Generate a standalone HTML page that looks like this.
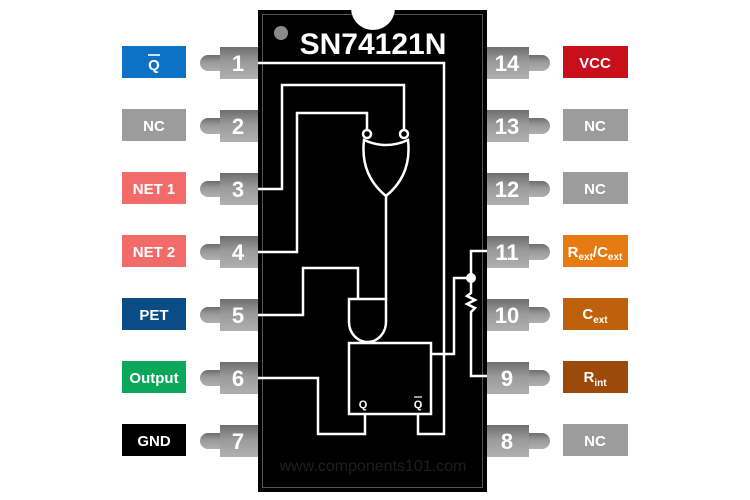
<!DOCTYPE html>
<html><head><meta charset="utf-8"><style>
html,body{margin:0;padding:0;background:#fff;width:750px;height:500px;overflow:hidden}
svg{display:block}
text{font-family:"Liberation Sans",Arial,sans-serif;font-weight:bold}
</style></head><body>
<svg width="750" height="500" viewBox="0 0 750 500" xmlns="http://www.w3.org/2000/svg">
<defs>
<linearGradient id="pg" x1="0" y1="0" x2="0" y2="1">
<stop offset="0" stop-color="#6e6e6e"/><stop offset="0.45" stop-color="#9a9a9a"/><stop offset="1" stop-color="#b0b0b0"/>
</linearGradient>
<g id="lp"><rect x="200" y="-8" width="30" height="16" rx="8" fill="url(#pg)"/><rect x="220" y="-16" width="40" height="32" fill="url(#pg)"/></g>
<g id="rp"><rect x="520" y="-8" width="30" height="16" rx="8" fill="url(#pg)"/><rect x="485" y="-16" width="44" height="32" fill="url(#pg)"/></g>
</defs>
<g><use href="#lp" y="63"/><use href="#lp" y="126"/><use href="#lp" y="189"/><use href="#lp" y="252"/><use href="#lp" y="315"/><use href="#lp" y="378"/><use href="#lp" y="441"/>
<use href="#rp" y="63"/><use href="#rp" y="126"/><use href="#rp" y="189"/><use href="#rp" y="252"/><use href="#rp" y="315"/><use href="#rp" y="378"/><use href="#rp" y="441"/></g>
<rect x="258" y="10" width="229" height="482" fill="#000"/>
<rect x="262.5" y="14.5" width="220" height="473" fill="none" stroke="#555" stroke-width="1"/>
<circle cx="373" cy="8" r="22" fill="#fff"/>
<circle cx="281" cy="33" r="7" fill="#8a8a8a"/>
<text x="373" y="54" font-size="30" fill="#fff" text-anchor="middle">SN74121N</text>
<text x="373" y="471" font-size="16" fill="#1e1e1e" text-anchor="middle" style="font-weight:normal">www.components101.com</text>
<g font-size="22" fill="#fff" text-anchor="middle">
<text x="238" y="71">1</text><text x="238" y="134">2</text><text x="238" y="197">3</text><text x="238" y="260">4</text><text x="238" y="323">5</text><text x="238" y="386">6</text><text x="238" y="449">7</text>
<text x="507" y="71">14</text><text x="507" y="134">13</text><text x="507" y="197">12</text><text x="507" y="260">11</text><text x="507" y="323">10</text><text x="507" y="386">9</text><text x="507" y="449">8</text>
</g>
<g fill="none" stroke="#fff" stroke-width="2.5">
<polyline points="258,63 444,63 444,434 418,434 418,414"/>
<polyline points="258,189 282,189 282,85 404,85 404,130"/>
<polyline points="258,252 297,252 297,113 367,113 367,130"/>
<circle cx="367" cy="134" r="4"/><circle cx="404" cy="134" r="4"/>
<path d="M364,140 Q386,150 408,140 Q412,175 386,196 Q360,175 364,140 Z"/>
<line x1="386" y1="196" x2="386" y2="299"/>
<polyline points="258,315 303,315 303,268 358,268 358,299"/>
<path d="M349,299 L386,299 L386,322 A18.5,20 0 0 1 349,322 Z"/>
<rect x="349" y="343" width="82" height="71"/>
<polyline points="258,378 318,378 318,434 365,434 365,414"/>
<polyline points="431,354 454,354 454,278 471,278"/>
<polyline points="487,251 471,251 471,293 467,296 475,300 467,304 475,308 471,312 471,376 487,376"/>
</g>
<circle cx="471" cy="278" r="5" fill="#fff"/>
<text x="363" y="408" font-size="11" fill="#fff" text-anchor="middle">Q</text>
<text x="418" y="408" font-size="11" fill="#fff" text-anchor="middle">Q</text>
<line x1="414" y1="397" x2="422" y2="397" stroke="#fff" stroke-width="1.2"/>
<g font-size="15" fill="#fff" text-anchor="middle">
<rect x="122" y="46" width="64" height="32" fill="#0b72c6"/><text x="154" y="70">Q</text>
<line x1="148" y1="55" x2="160" y2="55" stroke="#fff" stroke-width="1.6"/>
<rect x="122" y="109" width="64" height="32" fill="#9c9c9c"/><text x="154" y="131">NC</text>
<rect x="122" y="172" width="64" height="32" fill="#f26b6b"/><text x="154" y="194">NET 1</text>
<rect x="122" y="235" width="64" height="32" fill="#f26b6b"/><text x="154" y="257">NET 2</text>
<rect x="122" y="298" width="64" height="32" fill="#0a4d86"/><text x="154" y="320">PET</text>
<rect x="122" y="361" width="64" height="32" fill="#0aa75a"/><text x="154" y="383">Output</text>
<rect x="122" y="424" width="64" height="32" fill="#000"/><text x="154" y="446">GND</text>
<rect x="563" y="46" width="65" height="32" fill="#c8101c"/><text x="595" y="68">VCC</text>
<rect x="563" y="109" width="65" height="32" fill="#9c9c9c"/><text x="595" y="131">NC</text>
<rect x="563" y="172" width="65" height="32" fill="#9c9c9c"/><text x="595" y="194">NC</text>
<rect x="563" y="235" width="65" height="32" fill="#e87a12"/><text x="595" y="257">R<tspan font-size="10" dy="3">ext</tspan><tspan dy="-3">/C</tspan><tspan font-size="10" dy="3">ext</tspan></text>
<rect x="563" y="298" width="65" height="32" fill="#bf600c"/><text x="595" y="319">C<tspan font-size="10" dy="4">ext</tspan></text>
<rect x="563" y="361" width="65" height="32" fill="#9c4a0a"/><text x="595" y="382">R<tspan font-size="10" dy="4">int</tspan></text>
<rect x="563" y="424" width="65" height="32" fill="#9c9c9c"/><text x="595" y="446">NC</text>
</g>
</svg>
</body></html>
